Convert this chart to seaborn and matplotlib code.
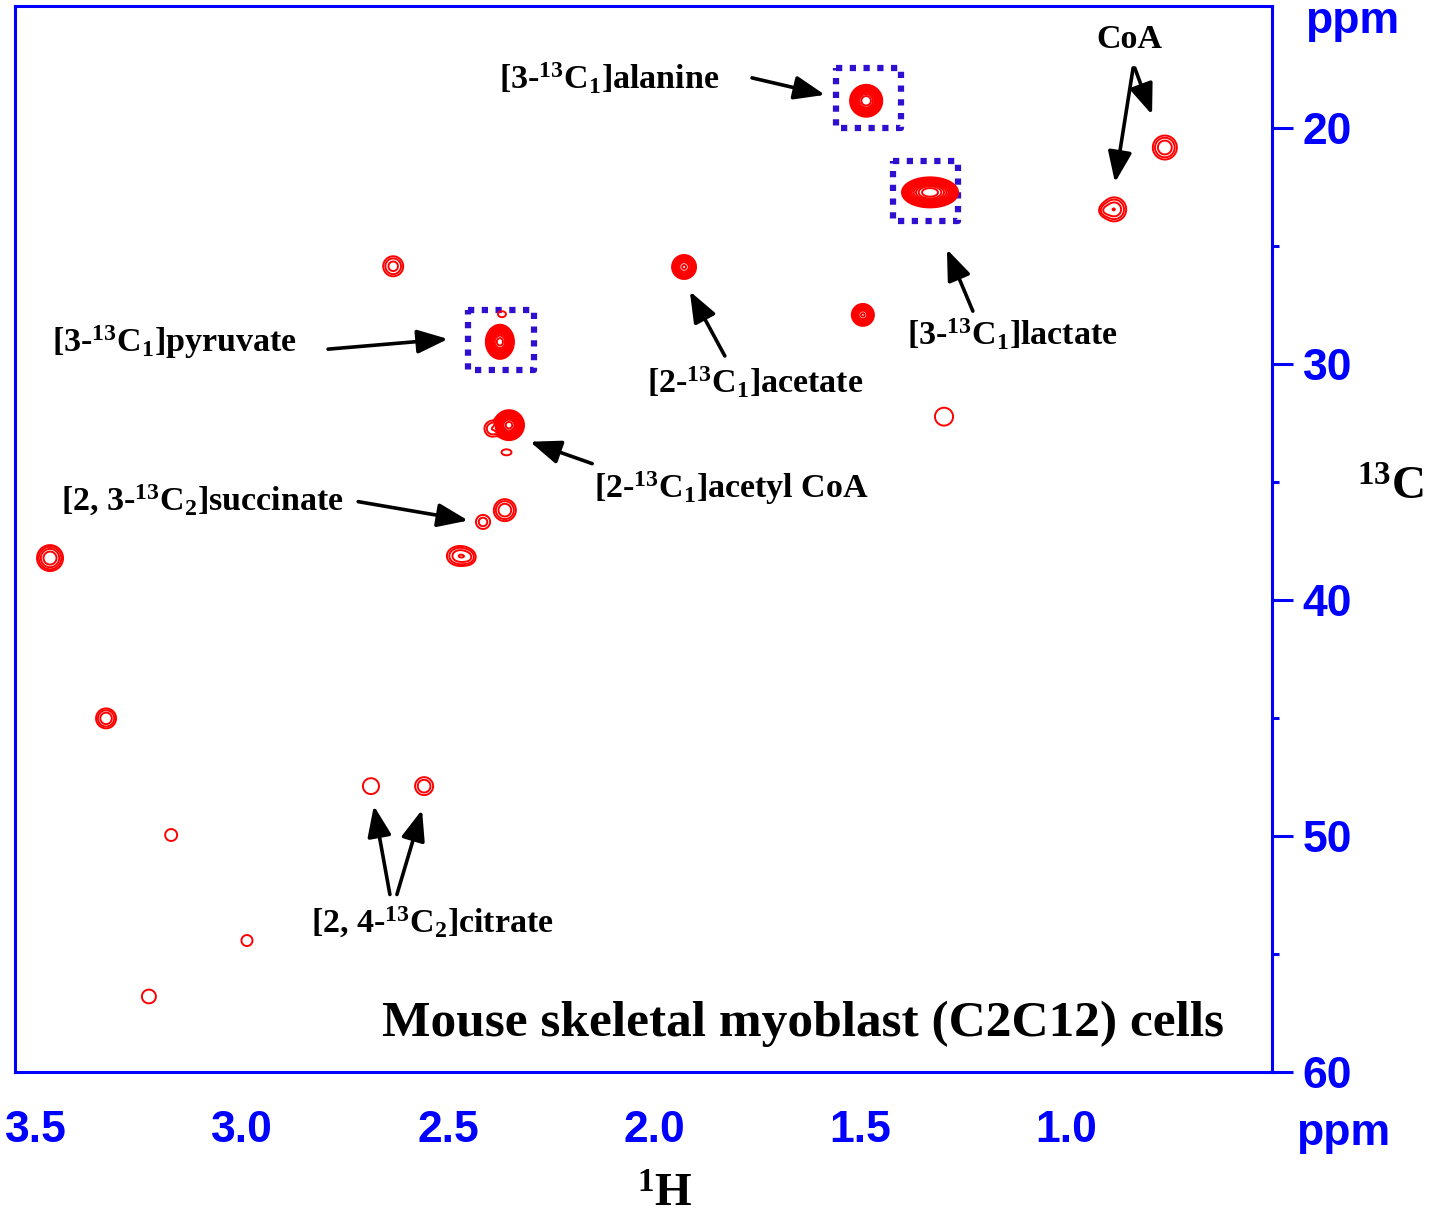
import numpy as np
import matplotlib
matplotlib.use("Agg")
import matplotlib.pyplot as plt
from matplotlib.patches import Rectangle
import seaborn as sns

sns.set_style("white")
plt.rcParams["font.family"] = ["Liberation Serif", "DejaVu Serif"]
plt.rcParams["text.color"] = "black"
plt.rcParams["mathtext.fontset"] = "custom"
plt.rcParams["mathtext.rm"] = "Liberation Serif:bold"
plt.rcParams["mathtext.it"] = "Liberation Serif:bold"
plt.rcParams["mathtext.bf"] = "Liberation Serif:bold"

# cross peaks: 1H shift, 13C shift, height, line widths (ppm)
peak_h = [1.485, 1.330, 1.370, 1.290, 0.760, 0.883, 0.905, 1.927, 2.633, 1.493,
          2.374, 2.369, 2.352, 2.392, 2.358, 1.296, 2.415, 2.362, 2.471, 2.450,
          3.466, 3.330, 2.687, 2.558, 3.172, 2.988, 3.226]
peak_c = [18.86, 22.74, 22.80, 22.80, 20.84, 23.46, 23.50, 25.90, 25.87, 27.93,
          29.07, 27.90, 32.60, 32.75, 33.75, 32.24, 36.70, 36.20, 38.14, 38.20,
          38.23, 45.02, 47.89, 47.89, 49.96, 54.43, 56.80]
peak_amp = [2000, 4000, 15, 15, 8, 8, 3, 300, 6, 300,
            3000, 1.5, 3000, 4, 1.5, 1.6, 3, 8, 8, 3,
            16, 8, 1.8, 4, 1.6, 1.6, 1.6]
peak_wh = [0.0100, 0.0167, 0.0073, 0.0073, 0.0143, 0.0143, 0.0085, 0.0086, 0.0128, 0.0079,
           0.0085, 0.0107, 0.0091, 0.0117, 0.0134, 0.0226, 0.0115, 0.0131, 0.0155, 0.0097,
           0.0134, 0.0119, 0.0180, 0.0131, 0.0150, 0.0138, 0.0175]
peak_wc = [0.173, 0.156, 0.127, 0.127, 0.249, 0.249, 0.150, 0.150, 0.224, 0.137,
           0.180, 0.140, 0.158, 0.203, 0.140, 0.390, 0.200, 0.228, 0.207, 0.170,
           0.233, 0.207, 0.310, 0.228, 0.260, 0.240, 0.300]

# labels and arrows
label_text = [r"[3-$^{13}$C$_1$]alanine", r"[3-$^{13}$C$_1$]lactate", "CoA",
              r"[2-$^{13}$C$_1$]acetate", r"[3-$^{13}$C$_1$]pyruvate",
              r"[2-$^{13}$C$_1$]acetyl CoA", r"[2, 3-$^{13}$C$_2$]succinate",
              r"[2, 4-$^{13}$C$_2$]citrate"]
label_h = [2.109, 1.129, 0.847, 1.755, 3.165, 1.811, 3.097, 2.539]
label_c = [17.93, 28.74, 16.28, 30.81, 29.08, 35.29, 35.80, 53.66]

arrow_from_h = [1.762, 1.226, 0.837, 0.833, 1.828, 2.791, 2.150, 2.718, 2.641, 2.624]
arrow_from_c = [17.89, 27.77, 17.47, 17.47, 29.67, 29.38, 34.23, 35.84, 52.48, 52.48]
arrow_to_h = [1.585, 1.289, 0.881, 0.791, 1.913, 2.500, 2.301, 2.451, 2.680, 2.563]
arrow_to_c = [18.61, 25.15, 22.32, 19.45, 26.93, 28.95, 33.30, 36.64, 48.72, 48.89]

# dotted boxes around the highlighted metabolites
box_h0 = [1.558, 1.420, 2.451]
box_h1 = [1.400, 1.262, 2.291]
box_c0 = [17.47, 21.43, 27.72]
box_c1 = [20.00, 23.97, 30.25]

x_ticks = [3.5, 3.0, 2.5, 2.0, 1.5, 1.0, 0.5]
x_tick_labels = ["3.5", "3.0", "2.5", "2.0", "1.5", "1.0", ""]
x_minor = [3.25, 2.75, 2.25, 1.75, 1.25, 0.75]
y_ticks = [20, 30, 40, 50, 60]
y_minor = [25, 35, 45, 55]

blue = "#0000ff"

fig = plt.figure(figsize=(14.29, 12.21), dpi=100)
ax = fig.add_axes([0.0105, 0.122, 0.8796, 0.873])

hx = np.linspace(0.5, 3.56, 2400)
cy = np.linspace(14.8, 60.0, 1800)
H, C = np.meshgrid(hx, cy)
Z = np.zeros_like(H)
for h, c, a, wh, wc in zip(peak_h, peak_c, peak_amp, peak_wh, peak_wc):
    Z += a * np.exp(-0.5 * (((H - h) / wh) ** 2 + ((C - c) / wc) ** 2))

levels = 2.0 ** np.arange(0, 14)
ax.contour(H, C, Z, levels=levels, colors="#ff0000", linewidths=1.4)

for h0, h1, c0, c1 in zip(box_h0, box_h1, box_c0, box_c1):
    ax.add_patch(Rectangle((h0, c0), h1 - h0, c1 - c0, fill=False,
                           edgecolor="#3010d0", lw=4.5, linestyle=(0, (1, 1.2)),
                           capstyle="butt", joinstyle="round"))

for fh, fc, th, tc in zip(arrow_from_h, arrow_from_c, arrow_to_h, arrow_to_c):
    ax.annotate("", xy=(th, tc), xytext=(fh, fc),
                arrowprops=dict(arrowstyle="-|>,head_length=0.85,head_width=0.33",
                                lw=2.6, color="black", mutation_scale=22,
                                shrinkA=0, shrinkB=0))

for t, h, c in zip(label_text, label_h, label_c):
    ax.text(h, c, t, fontsize=24.5, fontweight="bold", color="black",
            ha="center", va="center")

ax.text(1.638, 57.97, "Mouse skeletal myoblast (C2C12) cells", fontsize=37,
        fontweight="bold", color="black", ha="center", va="center")

ax.set_xlim(3.551, 0.5)
ax.set_ylim(60, 14.85)
ax.yaxis.tick_right()
ax.set_xticks(x_ticks)
ax.set_xticklabels(x_tick_labels)
ax.set_xticks(x_minor, minor=True)
ax.set_yticks(y_ticks)
ax.set_yticks(y_minor, minor=True)
for lab in ax.get_xticklabels() + ax.get_yticklabels():
    lab.set_family(["Liberation Sans", "DejaVu Sans"])
    lab.set_fontweight("bold")
    lab.set_fontsize(32)
    lab.set_color(blue)
ax.tick_params(axis="x", which="major", direction="out", length=16, width=2.2,
               color=blue, pad=11)
ax.tick_params(axis="x", which="minor", direction="out", length=5, width=2.2, color=blue)
ax.tick_params(axis="y", which="major", direction="out", length=15, width=2.2,
               color=blue, pad=7, right=True, left=False)
ax.tick_params(axis="y", which="minor", direction="out", length=5, width=2.2,
               color=blue, right=True, left=False)
for sp in ax.spines.values():
    sp.set_color(blue)
    sp.set_linewidth(2.2)
ax.grid(False)

fig.text(0.940, 0.072, "ppm", fontsize=32, fontweight="bold", color=blue,
         family=["Liberation Sans", "DejaVu Sans"], ha="center", va="center")
fig.text(0.946, 0.982, "ppm", fontsize=32, fontweight="bold", color=blue,
         family=["Liberation Sans", "DejaVu Sans"], ha="center", va="center")
fig.text(0.465, 0.021, r"$^{1}$H", fontsize=34, fontweight="bold", color="black",
         ha="center", va="center")
fig.text(0.973, 0.600, r"$^{13}$C", fontsize=34, fontweight="bold", color="black",
         ha="center", va="center")

fig.savefig("out.png", dpi=100)
